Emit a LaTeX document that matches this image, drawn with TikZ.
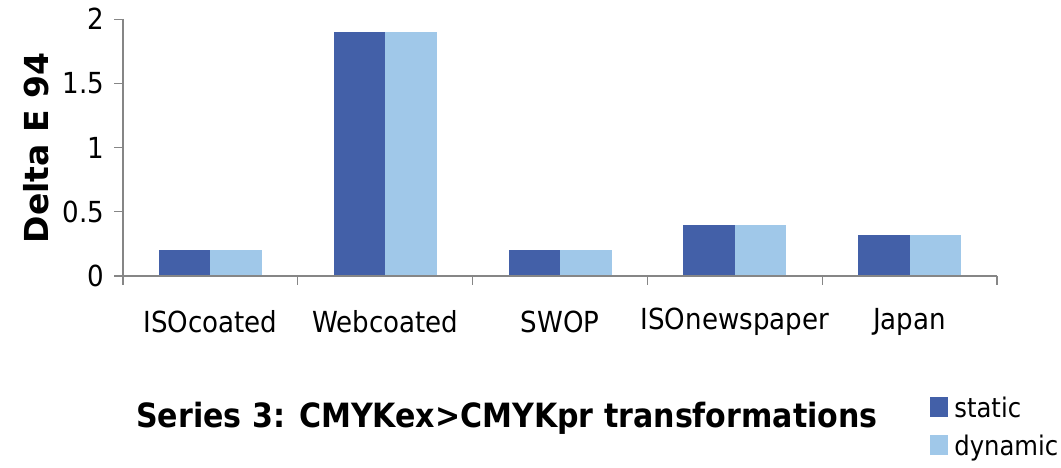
\documentclass[tikz,border=0pt]{standalone}
\usepackage{fontspec}
\setmainfont{DejaVu Sans Condensed}
\newfontfamily\widebold{DejaVu Sans}
\definecolor{staticblue}{HTML}{4360A8}
\definecolor{dynamicblue}{HTML}{A0C8E9}
\definecolor{axisgray}{HTML}{868686}
\tikzset{
  axisline/.style={draw=axisgray,line width=1.2pt},
  ticklab/.style={font=\fontsize{29}{29}\selectfont,inner sep=0pt},
  ylab/.style={font=\widebold\bfseries\fontsize{33}{33}\selectfont,rotate=90,inner sep=0pt},
  title/.style={font=\bfseries\fontsize{33.4}{33.4}\selectfont,anchor=base,inner sep=0pt},
  legkey/.style={minimum width=18pt,minimum height=20pt,inner sep=0pt},
  legtext/.style={font=\fontsize{27}{27}\selectfont,anchor=base west,inner sep=0pt}
}

\begin{document}
\begin{tikzpicture}[x=1pt,y=1pt]
\useasboundingbox (-123,-192) rectangle (938,276);
% bars, one unit = 128.4pt
\foreach \name/\val [count=\i] in {ISOcoated/0.2,Webcoated/1.9,SWOP/0.2,ISOnewspaper/0.4,Japan/0.32}{
  \pgfmathsetmacro\x{(\i-1)*174.8}
  \fill[staticblue] (\x+36,0) rectangle +(51.5,\val*128.4);
  \fill[dynamicblue] (\x+87.5,0) rectangle +(51.5,\val*128.4);
  \node[ticklab] (cat\i) at (\x+87.4,-46) {\name};
}
% axes
\coordinate (O) at (0,0);
\coordinate (xend) at (874,0);
\coordinate (yend) at (0,257);
\draw[axisline] (yend) -- (O) -- (xend);
\foreach \v [count=\j] in {0,0.5,1,1.5,2}{
  \draw[axisline] (0,\v*128.4) -- +(-9,0) node[ticklab,anchor=east,xshift=-9pt] (yt\j) {\v};
}
\foreach \k in {0,...,5}
  \draw[axisline] (\k*174.8,0) -- +(0,-9);
\node[ylab] (ylabel) at (-87,128) {Delta E 94};
% title and legend
\node[title] (chartname) at (384,-152) {Series 3: CMYKex>CMYKpr transformations};
\node[legkey,fill=staticblue] (keyS) at (816,-131) {};
\node[legtext] (txtS) at ([xshift=6pt]keyS.south east) {static};
\node[legkey,fill=dynamicblue] (keyD) at (816,-169) {};
\node[legtext] (txtD) at ([xshift=6pt]keyD.south east) {dynamic};
\end{tikzpicture}
\end{document}
